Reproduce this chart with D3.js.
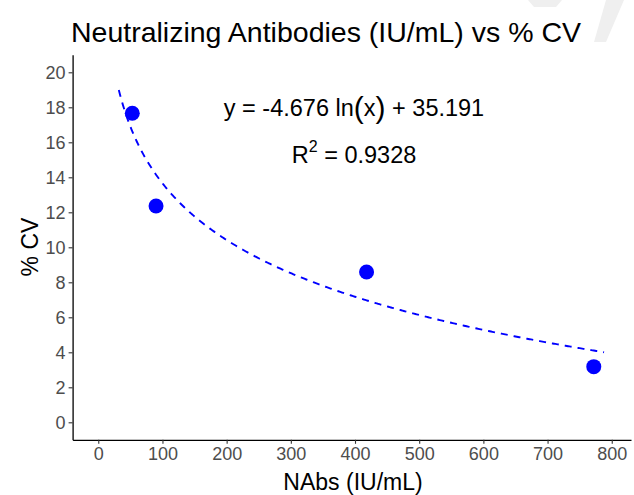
<!DOCTYPE html>
<html>
<head>
<meta charset="utf-8">
<script src="https://cdn.jsdelivr.net/npm/d3@7"></script>
<style>
  html, body { margin: 0; padding: 0; background: #ffffff; }
  svg { display: block; font-family: "Liberation Sans", Arial, Helvetica, sans-serif; }
</style>
</head>
<body>
<svg id="chart" width="634" height="495"></svg>
<script>
// ---- data ----
const nabs = [53, 90, 418, 772];
const cv = [17.66, 12.36, 8.59, 3.18];
const xTicks = [0, 100, 200, 300, 400, 500, 600, 700, 800];
const yTicks = [0, 2, 4, 6, 8, 10, 12, 14, 16, 18, 20];
const fitSlope = -4.676;
const fitIntercept = 35.191;
const fitRange = [32, 788];
const titleText = "Neutralizing Antibodies (IU/mL) vs % CV";
const xLabel = "NAbs (IU/mL)";
const yLabel = "% CV";
const r2Text = "0.9328";

const svg = d3.select("#chart");

// faint watermark marks top right
svg.append("path")
  .attr("d", "M528,0 L562,0 L556,7 L534,7 Z")
  .attr("fill", "#efefef");
svg.append("path")
  .attr("d", "M606,0 L624,0 L606,42 L594,42 Z")
  .attr("fill", "#efefef");

const x = d3.scaleLinear().domain([-40, 830]).range([72.6, 631]);
const y = d3.scaleLinear().domain([-1, 21]).range([439.8, 54.8]);

// axes
const xAxis = d3.axisBottom(x).tickValues(xTicks).tickSize(4).tickPadding(3).tickSizeOuter(0);
const yAxis = d3.axisLeft(y).tickValues(yTicks).tickSize(4).tickPadding(3).tickSizeOuter(0);

const gx = svg.append("g").attr("transform", `translate(0,${y(-1)})`).call(xAxis);
const gy = svg.append("g").attr("transform", `translate(${x(-40)},0)`).call(yAxis);

[gx, gy].forEach(g => {
  g.select(".domain").attr("stroke", "#000").attr("stroke-width", 1.3);
  g.selectAll(".tick line").attr("stroke", "#333").attr("stroke-width", 1.1);
  g.selectAll(".tick text").attr("fill", "#4d4d4d").attr("font-size", 18)
    .attr("font-family", "Liberation Sans, Arial, sans-serif");
});

// fitted curve
const curvePts = d3.range(fitRange[0], fitRange[1] + 0.1, 2).map(v => [v, fitSlope * Math.log(v) + fitIntercept]);
svg.append("path")
  .datum(curvePts)
  .attr("fill", "none")
  .attr("stroke", "#0000ff")
  .attr("stroke-width", 1.9)
  .attr("stroke-dasharray", "7,6")
  .attr("d", d3.line().x(d => x(d[0])).y(d => y(d[1])));

// points
svg.append("g").selectAll("circle")
  .data(nabs.map((v, i) => [v, cv[i]]))
  .join("circle")
  .attr("cx", d => x(d[0]))
  .attr("cy", d => y(d[1]))
  .attr("r", 7.5)
  .attr("fill", "#0000ff");

// title
svg.append("text")
  .attr("x", 326).attr("y", 42)
  .attr("text-anchor", "middle")
  .attr("font-size", 28.5)
  .attr("fill", "#000")
  .text(titleText);

// axis titles
svg.append("text")
  .attr("x", 353).attr("y", 490)
  .attr("text-anchor", "middle")
  .attr("font-size", 23)
  .attr("fill", "#000")
  .text(xLabel);
svg.append("text")
  .attr("transform", "translate(38,247) rotate(-90)")
  .attr("text-anchor", "middle")
  .attr("font-size", 23)
  .attr("fill", "#000")
  .text(yLabel);

// equation annotation
const eq = svg.append("text")
  .attr("x", 354).attr("y", 116)
  .attr("text-anchor", "middle")
  .attr("font-size", 23.5)
  .attr("fill", "#000");
eq.append("tspan").text("y = " + fitSlope.toFixed(3) + " ln");
eq.append("tspan").attr("font-size", 30).attr("dy", 1.5).text("(");
eq.append("tspan").attr("dy", -1.5).text("x");
eq.append("tspan").attr("font-size", 30).attr("dy", 1.5).text(")");
eq.append("tspan").attr("dy", -1.5).text(" + " + fitIntercept.toFixed(3));

const r2 = svg.append("text")
  .attr("x", 354).attr("y", 163)
  .attr("text-anchor", "middle")
  .attr("font-size", 23.5)
  .attr("fill", "#000");
r2.append("tspan").text("R");
r2.append("tspan").attr("font-size", 16).attr("dy", -11).text("2");
r2.append("tspan").attr("dy", 11).text(" = " + r2Text);
</script>
</body>
</html>
